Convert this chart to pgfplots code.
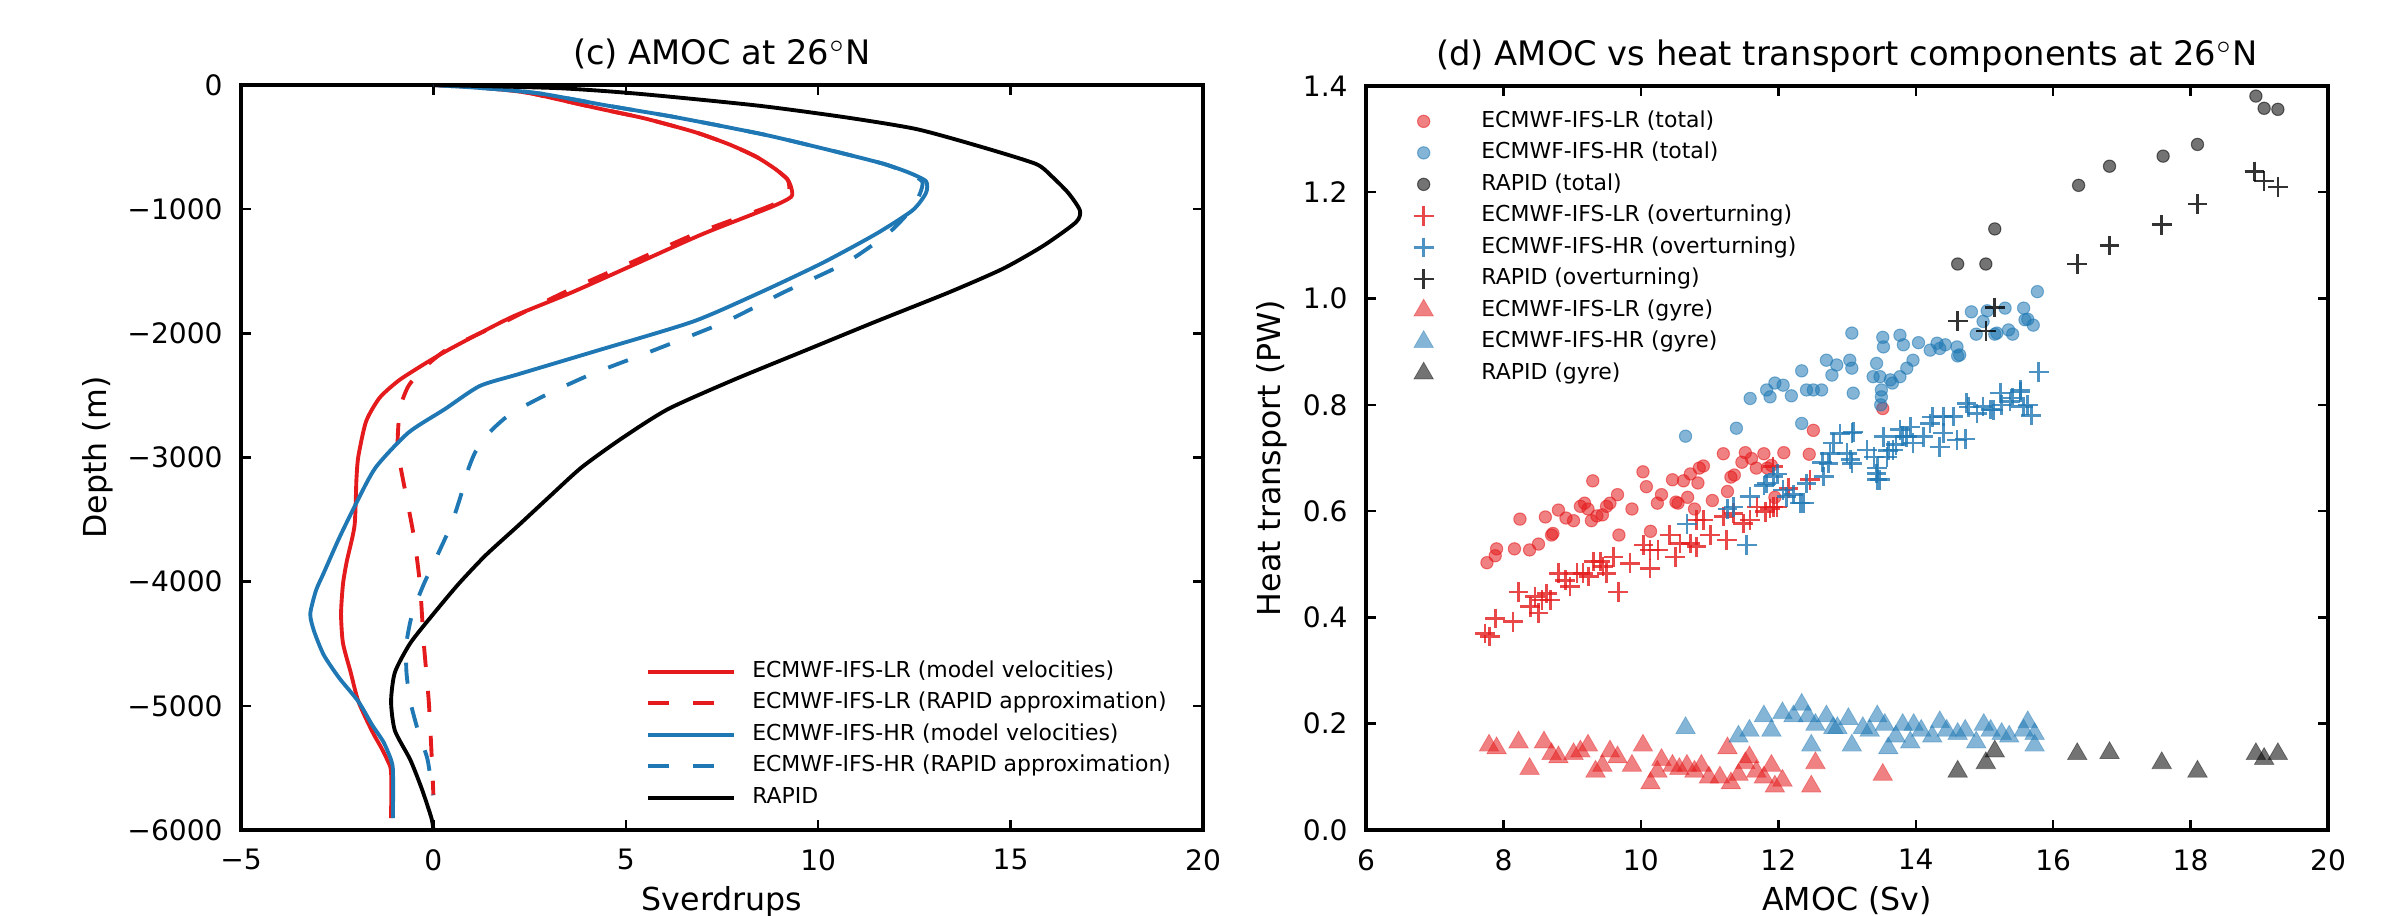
\documentclass[border=0pt]{standalone}
\usepackage{fontspec}
\setmainfont{DejaVu Sans}
\usepackage{pgfplots}
\pgfplotsset{compat=1.18}

\definecolor{lrred}{RGB}{228,26,28}
\definecolor{hrblue}{RGB}{31,120,180}

\pgfplotsset{
  common/.style={
    scale only axis, width=9.62cm,
    axis line style={line width=1.1pt},
    tick style={line width=0.7pt, black}, major tick length=0.1cm,
    tick align=inside,
    ticklabel style={font=\fontsize{8}{9.6}\selectfont},
    xticklabel style={yshift=-0.07cm},
    yticklabel style={xshift=-0.06cm},
    label style={font=\fontsize{9}{11}\selectfont},
    xlabel style={at={(axis description cs:0.5,0)}, anchor=base, yshift=-0.81cm},
    every axis title shift=0pt,
    title style={font=\fontsize{9.6}{11.5}\selectfont, at={(axis description cs:0.5,1)}, anchor=base, yshift=0.2cm},
    /pgf/number format/assume math mode=true,
    legend cell align=left,
    legend style={draw=none, fill=none, font=\fontsize{6.25}{7.5}\selectfont,
      nodes={inner ysep=0.05cm, inner xsep=0.08cm, text height=0.165cm, text depth=0.05cm}},
  },
}

\begin{document}
\begin{tikzpicture}
\useasboundingbox (0,0) rectangle (24cm,9.16cm);

% (c) AMOC profiles
\begin{axis}[common, at={(2.41cm,0.86cm)}, anchor=south west, height=7.45cm,
  xmin=-5, xmax=20, ymin=-6000, ymax=0,
  xtick={-5,0,5,10,15,20}, xticklabels={−5,0,5,10,15,20},
  ytick={-6000,-5000,-4000,-3000,-2000,-1000,0},
  yticklabels={−6000,−5000,−4000,−3000,−2000,−1000,0},
  title={(c) AMOC at 26$^{\circ}$N}, xlabel={Sverdrups}, ylabel={Depth (m)},
  ylabel style={at={(axis description cs:-0.140,0.5)}, anchor=base},
  legend style={at={(0.995,0.012)}, anchor=south east,
    nodes={inner xsep=0.16cm}},
  legend image code/.code={\draw[#1] (0cm,0cm) -- (0.86cm,0cm);},
  every axis plot/.append style={line width=1.1pt, smooth, tension=0.4},
  ]
\addplot[lrred] coordinates {(0,0) (1.2,-20) (2.4,-60) (3.3,-120) (4.3,-190) (5.5,-270) (6.8,-380) (7.7,-480) (8.4,-580) (8.9,-680) (9.2,-760) (9.3,-830) (9.3,-900) (8.8,-980) (7.0,-1200) (5.3,-1435) (3.6,-1670) (2.1,-1860) (1.2,-2000) (0.35,-2140) (-0.25,-2250) (-0.9,-2380) (-1.4,-2520) (-1.75,-2710) (-1.95,-2990) (-2.0,-3175) (-2.05,-3550) (-2.25,-3835) (-2.35,-4020) (-2.4,-4260) (-2.35,-4495) (-2.15,-4730) (-1.95,-4965) (-1.6,-5200) (-1.35,-5340) (-1.2,-5435) (-1.1,-5530) (-1.1,-5905)};
\addlegendentry{ECMWF-IFS-LR (model velocities)}
\addplot[lrred, dash pattern=on 0.21cm off 0.24cm] coordinates {(0,0) (1.2,-20) (2.4,-60) (3.3,-120) (4.3,-190) (5.5,-270) (6.8,-380) (7.7,-480) (8.4,-580) (8.9,-680) (9.2,-760) (9.25,-830) (9.2,-900) (8.7,-980) (6.8,-1200) (5.1,-1435) (3.4,-1670) (1.9,-1900) (1.0,-2030) (0.3,-2140) (-0.25,-2280) (-0.65,-2425) (-0.87,-2610) (-0.93,-2890) (-0.85,-3080) (-0.7,-3320) (-0.5,-3650) (-0.35,-4020) (-0.25,-4495) (-0.12,-4965) (-0.04,-5435) (0,-5720)};
\addlegendentry{ECMWF-IFS-LR (RAPID approximation)}
\addplot[hrblue] coordinates {(0,0) (1.5,-30) (2.8,-70) (4.5,-165) (6.3,-260) (8.6,-400) (10.5,-540) (11.7,-635) (12.35,-705) (12.8,-775) (12.8,-870) (12.45,-1010) (11.5,-1200) (10.1,-1435) (8.5,-1670) (6.75,-1905) (4.25,-2140) (2.2,-2330) (1.2,-2425) (0.3,-2610) (-0.65,-2800) (-1.5,-3080) (-2.0,-3365) (-2.45,-3650) (-2.85,-3930) (-3.05,-4070) (-3.2,-4260) (-3.1,-4400) (-2.85,-4590) (-2.45,-4775) (-1.95,-4965) (-1.6,-5150) (-1.3,-5290) (-1.1,-5435) (-1.05,-5530) (-1.05,-5905)};
\addlegendentry{ECMWF-IFS-HR (model velocities)}
\addplot[hrblue, dash pattern=on 0.21cm off 0.24cm] coordinates {(0,0) (1.5,-30) (2.8,-70) (4.5,-165) (6.3,-260) (8.6,-400) (10.5,-540) (11.7,-635) (12.3,-705) (12.7,-775) (12.65,-870) (12.4,-1010) (11.8,-1200) (10.7,-1435) (9.1,-1670) (7.6,-1905) (5.7,-2140) (4.1,-2330) (2.9,-2500) (2.0,-2650) (1.45,-2800) (1.1,-2950) (0.9,-3100) (0.7,-3320) (0.45,-3550) (0.1,-3790) (-0.25,-4020) (-0.55,-4260) (-0.7,-4495) (-0.7,-4730) (-0.6,-4965) (-0.4,-5200) (-0.15,-5435) (-0.02,-5720)};
\addlegendentry{ECMWF-IFS-HR (RAPID approximation)}
\addplot[black] coordinates {(0,0) (3.2,-25) (5.3,-70) (8.4,-165) (10.7,-260) (12.55,-355) (14.2,-495) (15.65,-635) (16.05,-730) (16.5,-870) (16.8,-1010) (16.7,-1105) (15.85,-1295) (14.8,-1480) (13.4,-1670) (11.5,-1905) (9.65,-2140) (7.8,-2375) (6.1,-2610) (4.9,-2845) (3.85,-3080) (3.0,-3320) (2.2,-3550) (1.35,-3790) (0.65,-4020) (0.0,-4260) (-0.6,-4495) (-1.0,-4730) (-1.1,-4965) (-1.0,-5200) (-0.6,-5435) (-0.3,-5670) (-0.05,-5905) (0,-6000)};
\addlegendentry{RAPID}
\end{axis}

% (d) scatter
\begin{axis}[common, at={(13.66cm,0.86cm)}, anchor=south west, height=7.44cm,
  xmin=6, xmax=20, ymin=0, ymax=1.4,
  xtick={6,8,10,12,14,16,18,20},
  ytick={0,0.2,0.4,0.6,0.8,1.0,1.2,1.4},
  yticklabels={0.0,0.2,0.4,0.6,0.8,1.0,1.2,1.4},
  title={(d) AMOC vs heat transport components at 26$^{\circ}$N},
  xlabel={AMOC (Sv)}, ylabel={Heat transport (PW)},
  ylabel style={at={(axis description cs:-0.089,0.5)}, anchor=base},
  legend style={at={(0.038,0.984)}, anchor=north west},
  legend image code/.code={\draw[mark repeat=2,mark phase=2,#1] plot coordinates {(0cm,0cm) (0.25cm,0cm) (0.5cm,0cm)}; \path (0.74cm,0cm);},
  dot/.style={color=#1, only marks, mark=*, mark size=1.75pt, mark options={line width=0.3pt, fill opacity=0.55, draw opacity=0.55}},
  crs/.style={color=#1, only marks, mark=+, mark size=2.8pt, mark options={line width=0.75pt, draw opacity=0.8}},
  tri/.style={color=#1, only marks, mark=triangle*, mark size=3.2pt, mark options={line width=0.2pt, fill opacity=0.55, draw opacity=0.4}},
  ]
\addplot[dot=lrred] coordinates {(7.76,0.503)(7.88,0.516)(7.90,0.529)(8.24,0.585)(8.16,0.529)(8.38,0.527)(8.51,0.538)(8.61,0.589)(8.70,0.555)(8.72,0.558)(8.80,0.602)(8.91,0.587)(9.02,0.582)(9.12,0.609)(9.18,0.615)(9.23,0.604)(9.28,0.582)(9.30,0.657)(9.36,0.591)(9.44,0.593)(9.50,0.609)(9.55,0.615)(9.66,0.631)(9.68,0.555)(9.87,0.604)(10.03,0.674)(10.08,0.646)(10.14,0.562)(10.24,0.615)(10.30,0.631)(10.46,0.659)(10.51,0.617)(10.54,0.615)(10.62,0.657)(10.68,0.626)(10.72,0.670)(10.78,0.604)(10.83,0.653)(10.85,0.681)(10.91,0.685)(11.04,0.620)(11.20,0.708)(11.26,0.637)(11.31,0.664)(11.36,0.668)(11.47,0.692)(11.52,0.710)(11.61,0.699)(11.68,0.681)(11.79,0.708)(11.84,0.681)(11.90,0.686)(11.95,0.626)(12.08,0.710)(12.45,0.707)(12.51,0.752)(13.52,0.793)};
\addlegendentry{ECMWF-IFS-LR (total)}
\addplot[dot=hrblue] coordinates {(10.65,0.741)(11.39,0.756)(12.34,0.765)(11.59,0.812)(11.83,0.828)(11.88,0.815)(11.95,0.841)(12.07,0.837)(12.19,0.817)(12.34,0.864)(12.41,0.828)(12.51,0.828)(12.63,0.828)(12.70,0.884)(12.78,0.856)(12.85,0.875)(13.04,0.884)(13.07,0.935)(13.07,0.869)(13.09,0.822)(13.38,0.853)(13.43,0.878)(13.48,0.853)(13.50,0.828)(13.50,0.815)(13.49,0.80)(13.52,0.927)(13.53,0.909)(13.63,0.847)(13.66,0.841)(13.77,0.853)(13.77,0.931)(13.82,0.913)(13.87,0.869)(13.96,0.884)(14.04,0.917)(14.21,0.903)(14.31,0.916)(14.35,0.906)(14.43,0.913)(14.60,0.909)(14.61,0.892)(14.64,0.894)(14.81,0.975)(14.88,0.933)(14.98,0.957)(15.04,0.977)(15.15,0.933)(15.18,0.935)(15.30,0.982)(15.35,0.941)(15.41,0.933)(15.57,0.982)(15.59,0.960)(15.63,0.961)(15.71,0.950)(15.77,1.013)};
\addlegendentry{ECMWF-IFS-HR (total)}
\addplot[dot=black] coordinates {(14.61,1.065)(15.02,1.065)(15.15,1.131)(16.37,1.213)(16.82,1.249)(17.60,1.268)(18.10,1.290)(18.95,1.381)(19.07,1.358)(19.27,1.356)};
\addlegendentry{RAPID (total)}
\addplot[crs=lrred] coordinates {(7.73,0.370)(7.80,0.364)(7.88,0.398)(8.14,0.392)(8.22,0.448)(8.39,0.420)(8.46,0.439)(8.56,0.433)(8.63,0.445)(8.68,0.433)(8.51,0.408)(8.80,0.483)(8.90,0.470)(8.97,0.458)(9.07,0.483)(9.16,0.483)(9.24,0.477)(9.31,0.505)(9.41,0.505)(9.45,0.496)(9.50,0.483)(9.60,0.514)(9.67,0.448)(9.84,0.502)(10.13,0.492)(10.04,0.536)(10.13,0.527)(10.25,0.527)(10.42,0.555)(10.50,0.514)(10.57,0.539)(10.72,0.539)(10.81,0.533)(10.81,0.583)(10.91,0.583)(11.01,0.555)(11.25,0.546)(11.20,0.590)(11.35,0.596)(11.49,0.577)(11.59,0.583)(11.69,0.608)(11.81,0.599)(11.88,0.605)(11.98,0.608)(11.93,0.608)(12.15,0.643)(12.46,0.659)(11.92,0.684)};
\addlegendentry{ECMWF-IFS-LR (overturning)}
\addplot[crs=hrblue] coordinates {(10.67,0.576)(11.26,0.604)(11.35,0.608)(11.54,0.536)(11.59,0.627)(11.79,0.648)(11.83,0.652)(11.93,0.665)(11.99,0.670)(12.07,0.640)(12.12,0.627)(12.22,0.631)(12.32,0.615)(12.37,0.615)(12.41,0.652)(12.64,0.692)(12.66,0.665)(12.73,0.690)(12.75,0.708)(12.80,0.728)(12.90,0.746)(13.00,0.709)(13.05,0.697)(13.07,0.690)(13.07,0.747)(13.09,0.749)(13.29,0.715)(13.39,0.702)(13.43,0.671)(13.44,0.681)(13.44,0.659)(13.48,0.659)(13.53,0.740)(13.58,0.702)(13.60,0.714)(13.67,0.715)(13.71,0.725)(13.77,0.753)(13.81,0.741)(13.87,0.740)(13.92,0.758)(13.96,0.728)(14.11,0.740)(14.21,0.765)(14.24,0.777)(14.35,0.721)(14.40,0.778)(14.40,0.747)(14.55,0.778)(14.60,0.734)(14.72,0.736)(14.74,0.803)(14.77,0.796)(14.89,0.784)(14.98,0.797)(15.09,0.791)(15.13,0.790)(15.23,0.822)(15.25,0.800)(15.37,0.806)(15.41,0.813)(15.52,0.828)(15.52,0.824)(15.57,0.797)(15.63,0.800)(15.68,0.780)(15.79,0.862)};
\addlegendentry{ECMWF-IFS-HR (overturning)}
\addplot[crs=black] coordinates {(14.61,0.958)(15.02,0.939)(15.15,0.983)(16.35,1.065)(16.82,1.100)(17.58,1.139)(18.10,1.178)(18.93,1.239)(19.07,1.221)(19.27,1.210)};
\addlegendentry{RAPID (overturning)}
\addplot[tri=lrred] coordinates {(7.79,0.159)(7.90,0.154)(8.22,0.165)(8.38,0.115)(8.59,0.165)(8.70,0.143)(8.80,0.137)(9.02,0.143)(9.12,0.148)(9.23,0.159)(9.34,0.110)(9.44,0.121)(9.55,0.148)(9.66,0.137)(9.87,0.121)(10.03,0.159)(10.14,0.088)(10.24,0.110)(10.30,0.132)(10.46,0.121)(10.56,0.115)(10.67,0.121)(10.78,0.110)(10.88,0.121)(10.99,0.099)(11.15,0.099)(11.26,0.154)(11.31,0.088)(11.42,0.104)(11.52,0.126)(11.58,0.137)(11.68,0.110)(11.79,0.099)(11.90,0.121)(11.95,0.082)(12.06,0.093)(12.48,0.082)(12.54,0.126)(13.52,0.104)};
\addlegendentry{ECMWF-IFS-LR (gyre)}
\addplot[tri=hrblue] coordinates {(10.65,0.192)(11.42,0.176)(11.58,0.187)(11.79,0.214)(11.90,0.187)(12.06,0.220)(12.22,0.214)(12.34,0.236)(12.43,0.214)(12.48,0.159)(12.54,0.198)(12.70,0.214)(12.80,0.192)(12.86,0.192)(13.02,0.209)(13.07,0.159)(13.23,0.192)(13.33,0.187)(13.44,0.214)(13.55,0.198)(13.60,0.154)(13.71,0.176)(13.81,0.198)(13.92,0.165)(13.97,0.198)(14.08,0.187)(14.24,0.176)(14.35,0.203)(14.45,0.187)(14.61,0.181)(14.72,0.187)(14.88,0.165)(14.99,0.198)(15.09,0.187)(15.25,0.181)(15.36,0.176)(15.57,0.187)(15.63,0.203)(15.73,0.181)(15.73,0.159)};
\addlegendentry{ECMWF-IFS-HR (gyre)}
\addplot[tri=black] coordinates {(14.61,0.110)(15.02,0.126)(15.15,0.148)(16.35,0.143)(16.82,0.145)(17.58,0.126)(18.10,0.110)(18.95,0.143)(19.07,0.134)(19.27,0.143)};
\addlegendentry{RAPID (gyre)}
\end{axis}
\end{tikzpicture}
\end{document}
